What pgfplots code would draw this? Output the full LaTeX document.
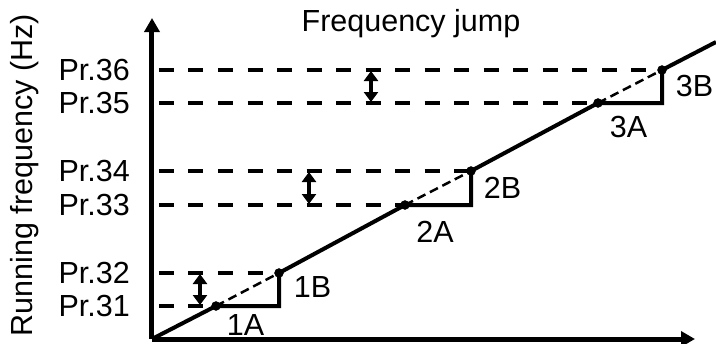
\documentclass[border=0pt]{standalone}
\usepackage{fontspec}
\setmainfont{Liberation Sans}
\usepackage{pgfplots}
\pgfplotsset{compat=1.18}
\usetikzlibrary{arrows.meta}

\newcommand\bigf{\fontsize{30.5bp}{35bp}\selectfont}

\begin{document}
\begin{tikzpicture}
\begin{axis}[
  x=1bp, y=1bp,
  xmin=0, xmax=543, ymin=0, ymax=321,
  axis lines=left,
  axis line style={line width=5bp, -{Triangle[width=15bp,length=14bp]}},
  xtick=\empty,
  ytick={33,66,134,168,236,269},
  yticklabels={Pr.31,Pr.32,Pr.33,Pr.34,Pr.35,Pr.36},
  major tick length=0pt,
  yticklabel style={inner sep=0pt, anchor=east, xshift=-22bp, font=\bigf},
  ylabel={Running frequency (Hz)},
  ylabel style={at={(axis cs:-127,164)}, anchor=center, rotate=0, font=\bigf},
  title={Frequency jump},
  title style={at={(axis cs:259,302)}, anchor=base, yshift=0pt, inner sep=0pt, font=\bigf},
  clip=false,
  thickdash/.style={line width=4bp, dash pattern=on 15bp off 14.5bp},
  thindash/.style={line width=2.5bp, dash pattern=on 9bp off 5bp},
  jump/.style={line width=3.6bp, {Triangle[width=14bp,length=10bp]}-{Triangle[width=14bp,length=10bp]}},
]
% jump levels
\addplot[thickdash] coordinates {(7,33) (64,33)};
\addplot[thickdash] coordinates {(7,66) (127,66)};
\addplot[thickdash] coordinates {(7,134) (253,134)};
\addplot[thickdash] coordinates {(7,168) (319,168)};
\addplot[thickdash] coordinates {(7,236) (446,236)};
\addplot[thickdash] coordinates {(7,269) (510,269)};

% skipped part of the ramp
\addplot[thindash] coordinates {(64,33) (127,66)};
\addplot[thindash] coordinates {(253,134) (319,168)};
\addplot[thindash] coordinates {(446,236) (510,269)};

% running frequency
\addplot[line width=4bp, line join=miter] coordinates {
  (0,0) (64,33) (127,33) (127,66) (253,134) (319,134) (319,168)
  (446,236) (510,236) (510,269) (564,297)};

\addplot[only marks, mark=*, mark size=4.5bp] coordinates {
  (64,33) (127,66) (253,134) (319,168) (446,236) (510,269)};

% jump widths
\addplot[jump] coordinates {(48,34) (48,65)};
\addplot[jump] coordinates {(157,135) (157,167)};
\addplot[jump] coordinates {(219,237) (219,268)};

\node[anchor=base, font=\bigf, inner sep=0pt] at (axis cs:93.5,4) {1A};
\node[anchor=base, font=\bigf, inner sep=0pt] at (axis cs:160.5,42) {1B};
\node[anchor=base, font=\bigf, inner sep=0pt] at (axis cs:283,97) {2A};
\node[anchor=base, font=\bigf, inner sep=0pt] at (axis cs:350.5,141) {2B};
\node[anchor=base, font=\bigf, inner sep=0pt] at (axis cs:476.5,202) {3A};
\node[anchor=base, font=\bigf, inner sep=0pt] at (axis cs:542.5,243) {3B};

\coordinate (bl) at (axis cs:-152,-4);
\coordinate (tr) at (axis cs:564,339);
\end{axis}
\pgfresetboundingbox
\useasboundingbox (bl) rectangle (tr);
\end{tikzpicture}
\end{document}
